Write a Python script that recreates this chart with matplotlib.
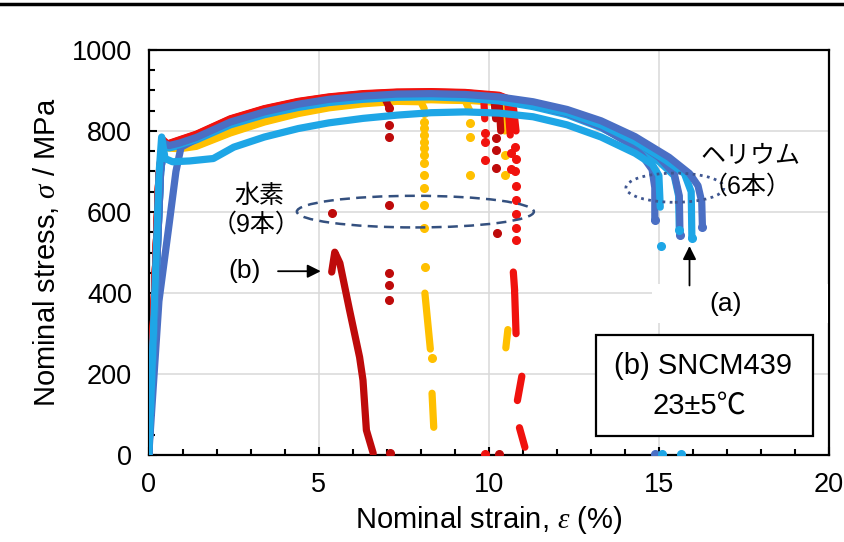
import numpy as np
import matplotlib.pyplot as plt
from matplotlib.patches import Ellipse, Rectangle
from matplotlib.lines import Line2D
from matplotlib.ticker import MultipleLocator

plt.rcParams['font.family'] = ['Liberation Sans', 'Noto Sans CJK JP']
plt.rcParams['mathtext.fontset'] = 'custom'
plt.rcParams['mathtext.it'] = 'Liberation Serif:italic'
plt.rcParams['mathtext.rm'] = 'Liberation Sans'

RED, DARKRED, YELLOW = '#F0120E', '#BE0A0A', '#FFC000'
BLUE, SKY = '#4A6FC4', '#1EA6E6'

# ---- hydrogen (9 specimens): main curves up to fracture ----
h_y1_e = [0, 0.12, 0.3, 0.42, 0.55, 0.9, 1.4, 2.4, 3.4, 4.4, 5.3, 6.3, 7.3, 8.0, 8.1]
h_y1_s = [0, 270, 680, 772, 758, 756, 762, 795, 822, 843, 857, 867, 873, 872, 855]
h_y2_e = [0, 0.12, 0.3, 0.42, 0.55, 0.9, 1.4, 2.4, 3.4, 4.4, 5.3, 6.3, 7.3, 8.3, 9.3, 9.44]
h_y2_s = [0, 270, 680, 770, 760, 758, 764, 797, 824, 845, 859, 869, 875, 877, 875, 850]
h_y3_e = [0, 0.12, 0.3, 0.42, 0.55, 0.9, 1.4, 2.4, 3.4, 4.4, 5.3, 6.3, 7.3, 8.3, 9.3, 10.3, 10.45, 10.47]
h_y3_s = [0, 270, 680, 774, 762, 760, 766, 798, 825, 846, 860, 870, 876, 878, 876, 870, 860, 800]

h_d1_e = [0, 0.12, 0.3, 0.45, 0.6, 0.9, 1.4, 2.4, 3.4, 4.4, 5.3, 6.3, 6.9, 7.06]
h_d1_s = [0, 280, 690, 770, 764, 772, 786, 822, 848, 866, 877, 886, 888, 860]
h_d2_e = [0, 0.12, 0.3, 0.45, 0.6, 0.9, 1.4, 2.4, 3.4, 4.4, 5.3, 6.3, 7.3, 8.3, 9.3, 10.0, 10.15, 10.2]
h_d2_s = [0, 280, 690, 772, 766, 774, 788, 824, 850, 868, 879, 887, 891, 892, 890, 886, 880, 830]
h_d3_e = [0, 0.12, 0.3, 0.45, 0.6, 0.9, 1.4, 2.4, 3.4, 4.4, 5.3, 6.3, 7.3, 8.3, 9.3, 10.1, 10.3, 10.35]
h_d3_s = [0, 280, 690, 768, 762, 770, 785, 821, 847, 865, 876, 884, 888, 889, 887, 882, 875, 800]

h_r1_e = [0, 0.12, 0.3, 0.42, 0.55, 0.9, 1.4, 2.4, 3.4, 4.4, 5.3, 6.3, 7.3, 8.3, 9.3, 10.3, 10.7, 10.8]
h_r1_s = [0, 280, 690, 778, 768, 778, 792, 830, 855, 873, 884, 892, 896, 897, 895, 888, 875, 800]
h_r2_e = [0, 0.12, 0.3, 0.42, 0.55, 0.9, 1.4, 2.4, 3.4, 4.4, 5.3, 6.3, 7.3, 8.3, 9.3, 10.3, 10.55, 10.63]
h_r2_s = [0, 280, 690, 775, 766, 776, 790, 828, 853, 871, 882, 890, 894, 895, 893, 887, 878, 790]
h_r3_e = [0, 0.12, 0.3, 0.42, 0.55, 0.9, 1.4, 2.4, 3.4, 4.4, 5.3, 6.3, 7.3, 8.3, 9.3, 9.7, 9.85, 9.88]
h_r3_s = [0, 280, 690, 776, 767, 777, 791, 829, 854, 872, 883, 891, 895, 896, 894, 891, 884, 830]

# scattered points recorded during the fracture drop
y_dots_e = [8.1, 8.1, 8.1, 8.1, 8.1, 8.1, 8.1, 8.1, 8.1, 8.1, 8.1, 8.1, 8.12, 8.32,
            9.44, 9.44, 9.44, 10.47, 10.47]
y_dots_s = [845, 822, 807, 790, 773, 758, 741, 721, 691, 659, 617, 560, 464, 240,
            820, 785, 691, 740, 691]
y_seg_e = [8.12, 8.28, np.nan, 8.33, 8.38, np.nan, 10.5, 10.56]
y_seg_s = [400, 262, np.nan, 153, 69, np.nan, 265, 310]

d_dots_e = [7.06, 7.06, 7.06, 7.06, 7.06, 7.06, 7.06, 7.1, 5.38,
            10.22, 10.22, 10.22, 10.25, 10.3]
d_dots_s = [857, 815, 785, 617, 449, 420, 383, 5, 597,
            783, 753, 709, 548, 4]
# specimen (b): unloading branch after fracture
b_e = [5.38, 5.47, 5.62, 5.9, 6.2, 6.3, 6.4, 6.6]
b_s = [452, 501, 474, 360, 242, 185, 62, 5]

r_dots_e = [10.78, 10.79, 10.78, 10.8, 10.79, 10.8, 10.8, 10.79,
            10.64, 10.66, 9.88, 9.88, 9.88, 9.9]
r_dots_s = [760, 730, 700, 665, 630, 595, 560, 530,
            745, 705, 795, 773, 728, 4]
r_seg_e = [10.72, 10.76, np.nan, 10.76, 10.8, np.nan, 10.97, 10.84, np.nan, 10.9, 11.06]
r_seg_s = [452, 405, np.nan, 400, 300, np.nan, 195, 135, np.nan, 68, 20]

# ---- helium (6 specimens) ----
he_b1_e = [0, 0.3, 0.6, 0.8, 0.95, 1.4, 2.4, 3.4, 4.4, 5.3, 6.3, 7.3, 8.3, 9.3, 10.3, 11.3, 12.3, 13.3, 14.0, 14.5, 14.8, 14.88, 14.88]
he_b1_s = [0, 380, 570, 700, 760, 780, 818, 843, 862, 874, 882, 887, 888, 885, 878, 865, 843, 810, 775, 740, 705, 660, 580]
he_b3_e = [0, 0.15, 0.35, 0.45, 0.6, 0.9, 1.4, 2.4, 3.4, 4.4, 5.3, 6.3, 7.3, 8.3, 9.3, 10.3, 11.3, 12.3, 13.3, 14.3, 15.0, 15.45, 15.6, 15.62]
he_b3_s = [0, 300, 700, 768, 762, 768, 782, 820, 845, 864, 876, 884, 889, 890, 887, 881, 868, 848, 818, 775, 735, 695, 640, 545]
he_b6_e = [0, 0.15, 0.35, 0.45, 0.6, 0.9, 1.4, 2.4, 3.4, 4.4, 5.3, 6.3, 7.3, 8.3, 9.3, 10.3, 11.3, 12.3, 13.3, 14.3, 15.3, 15.9, 16.15, 16.26, 16.28]
he_b6_s = [0, 300, 700, 770, 764, 770, 784, 822, 847, 866, 878, 886, 891, 892, 890, 884, 872, 853, 825, 786, 735, 695, 665, 625, 563]

he_s2_e = [0, 0.15, 0.3, 0.38, 0.48, 0.7, 1.2, 1.9, 2.5, 3.4, 4.4, 5.3, 6.3, 7.3, 8.3, 9.3, 10.3, 11.3, 12.3, 13.3, 14.3, 14.8, 15.0, 15.04]
he_s2_s = [0, 330, 690, 785, 732, 724, 726, 732, 760, 785, 806, 820, 831, 839, 845, 847, 844, 835, 815, 785, 745, 718, 690, 612]
he_s4_e = [0, 0.15, 0.35, 0.45, 0.6, 0.9, 1.4, 2.4, 3.4, 4.4, 5.3, 6.3, 7.3, 8.3, 9.3, 10.3, 11.3, 12.3, 13.3, 14.3, 15.0, 15.45, 15.58, 15.6]
he_s4_s = [0, 300, 700, 765, 758, 764, 778, 815, 840, 858, 870, 878, 883, 884, 881, 874, 860, 840, 808, 765, 725, 690, 640, 556]
he_s5_e = [0, 0.15, 0.35, 0.45, 0.6, 0.9, 1.4, 2.4, 3.4, 4.4, 5.3, 6.3, 7.3, 8.3, 9.3, 10.3, 11.3, 12.3, 13.3, 14.3, 15.2, 15.75, 15.95, 15.97]
he_s5_s = [0, 300, 700, 766, 760, 766, 780, 817, 842, 860, 872, 880, 885, 886, 884, 877, 864, 845, 815, 774, 728, 695, 650, 536]

he_dots_b_e = [14.88, 15.62, 16.28, 14.88]
he_dots_b_s = [580, 543, 563, 3]
he_dots_s_e = [15.06, 15.6, 15.97, 15.08, 15.65]
he_dots_s_s = [516, 556, 536, 3, 3]

fig = plt.figure(figsize=(8.45, 5.42), dpi=100)
ax = fig.add_axes([0.176, 0.160, 0.805, 0.748])

lw = 5.2
ms = 5.5
for e, s, c in [(h_y1_e, h_y1_s, YELLOW), (h_y2_e, h_y2_s, YELLOW), (h_y3_e, h_y3_s, YELLOW),
                (h_d1_e, h_d1_s, DARKRED), (h_d3_e, h_d3_s, DARKRED), (h_d2_e, h_d2_s, DARKRED),
                (h_r3_e, h_r3_s, RED), (h_r2_e, h_r2_s, RED), (h_r1_e, h_r1_s, RED)]:
    ax.plot(e, s, color=c, lw=lw, solid_capstyle='round', solid_joinstyle='round', zorder=3)

ax.plot(y_dots_e, y_dots_s, 'o', color=YELLOW, ms=ms, zorder=3)
ax.plot(y_seg_e, y_seg_s, color=YELLOW, lw=lw, solid_capstyle='round', zorder=3)
ax.plot(d_dots_e, d_dots_s, 'o', color=DARKRED, ms=ms, zorder=3)
ax.plot(b_e, b_s, color=DARKRED, lw=lw, solid_capstyle='round', solid_joinstyle='round', zorder=3)
ax.plot(r_dots_e, r_dots_s, 'o', color=RED, ms=ms, zorder=3)
ax.plot(r_seg_e, r_seg_s, color=RED, lw=lw, solid_capstyle='round', zorder=3)

for e, s, c in [(he_s4_e, he_s4_s, SKY), (he_b1_e, he_b1_s, BLUE), (he_b3_e, he_b3_s, BLUE),
                (he_s5_e, he_s5_s, SKY), (he_b6_e, he_b6_s, BLUE), (he_s2_e, he_s2_s, SKY)]:
    ax.plot(e, s, color=c, lw=lw, solid_capstyle='round', solid_joinstyle='round', zorder=4)
ax.plot(he_dots_b_e, he_dots_b_s, 'o', color=BLUE, ms=ms, zorder=4)
ax.plot(he_dots_s_e, he_dots_s_s, 'o', color=SKY, ms=ms, zorder=4)

# axes styling
ax.set_xlim(0, 20)
ax.set_ylim(0, 1000)
ax.xaxis.set_major_locator(MultipleLocator(5))
ax.xaxis.set_minor_locator(MultipleLocator(1))
ax.yaxis.set_major_locator(MultipleLocator(200))
ax.yaxis.set_minor_locator(MultipleLocator(50))
ax.tick_params(which='both', direction='in', top=False, right=False, width=1.5, labelsize=19.5)
ax.tick_params(axis='x', which='major', length=6, pad=12)
ax.tick_params(axis='y', which='major', length=6, pad=12)
ax.tick_params(which='minor', length=4.5)
ax.grid(True, which='major', color='#d9d9d9', lw=1.1, zorder=0)
ax.set_axisbelow(True)
for sp in ax.spines.values():
    sp.set_linewidth(1.6)

ax.set_xlabel(r'Nominal strain, $\varepsilon$ (%)', fontsize=21, labelpad=4)
ax.set_ylabel(r'Nominal stress, $\sigma$ / MPa', fontsize=21, labelpad=8)

# annotations
ax.add_patch(Ellipse((7.84, 601), 6.97, 78, fill=False, ec='#34507F', lw=1.8,
                     ls=(0, (4, 2.5)), zorder=6))
ax.add_patch(Ellipse((15.47, 660), 2.88, 72, fill=False, ec='#3F5690', lw=2,
                     ls=(0, (1, 1.6)), zorder=6))

ax.text(3.26, 640, '水素', ha='center', va='center', fontsize=18, zorder=7)
ax.text(3.15, 568, '（9本）', ha='center', va='center', fontsize=18, zorder=7)
ax.text(17.7, 738, 'ヘリウム', ha='center', va='center', fontsize=18, zorder=7)
ax.text(17.6, 662, '（6本）', ha='center', va='center', fontsize=18, zorder=7)

ax.text(2.82, 454, '(b)', ha='center', va='center', fontsize=19, zorder=7)
ax.annotate('', xy=(5.14, 454), xytext=(3.72, 454),
            arrowprops=dict(arrowstyle='-|>', color='black', lw=1.3, mutation_scale=20), zorder=7)

ax.add_patch(Rectangle((14.8, 326), 5.17, 96, fc='white', ec='none', zorder=5))
ax.text(16.95, 373, '(a)', ha='center', va='center', fontsize=19, zorder=7)
ax.annotate('', xy=(15.9, 523), xytext=(15.9, 412),
            arrowprops=dict(arrowstyle='-|>', color='black', lw=1.3, mutation_scale=20), zorder=7)

ax.add_patch(Rectangle((13.15, 47), 6.38, 249, fc='white', ec='black', lw=1.6, zorder=6))
ax.text(16.3, 220, '(b) SNCM439', ha='center', va='center', fontsize=21, zorder=7)
ax.text(16.2, 123, '23±5℃', ha='center', va='center', fontsize=21, zorder=7)

# heavy rule along the top edge
fig.add_artist(Line2D([0, 1], [0.992, 0.992], color='black', lw=2.5, transform=fig.transFigure))

fig.savefig('out.png', dpi=100)
